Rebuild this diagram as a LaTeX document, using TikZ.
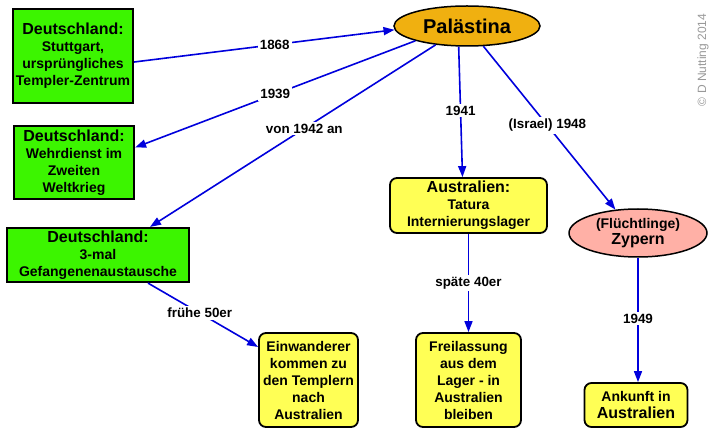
\documentclass[tikz,border=0pt]{standalone}
\usepackage{fontspec}
\setmainfont{Liberation Sans}
\usetikzlibrary{arrows.meta,shapes.geometric}
\definecolor{dgreen}{RGB}{60,245,0}
\definecolor{myyellow}{RGB}{255,255,85}
\definecolor{myorange}{RGB}{240,176,16}
\definecolor{mypink}{RGB}{255,176,166}
\definecolor{myblue}{RGB}{0,0,220}
\newcommand{\hd}[1]{{\fontsize{16}{17}\selectfont #1}}
\begin{document}
\begin{tikzpicture}[x=1pt,y=-1pt,
  gbox/.style={draw=black,line width=2.2pt,fill=dgreen,align=center,inner sep=0pt,
    font=\bfseries\fontsize{14}{17}\selectfont},
  ybox/.style={draw=black,line width=1.8pt,fill=myyellow,rounded corners=7pt,align=center,inner sep=0pt,
    font=\bfseries\fontsize{14}{17}\selectfont},
  ell/.style={draw=black,ellipse,line width=1.5pt,align=center,inner sep=0pt},
  conn/.style={draw=myblue,line width=1.6pt,-{Triangle[length=11pt,width=8pt]}},
  lbl/.style={fill=white,inner sep=2pt,font=\bfseries\fontsize{13.4}{15}\selectfont}
]
\useasboundingbox (0,0) rectangle (714,435);

\node[gbox,minimum width=120pt,minimum height=94pt] (b1) at (73,56)
  {\hd{Deutschland:}\\Stuttgart,\\ursprüngliches\\Templer-Zentrum};
\node[gbox,minimum width=120pt,minimum height=73pt] (b2) at (74,162.5)
  {\hd{Deutschland:}\\Wehrdienst im\\Zweiten\\Weltkrieg};
\node[gbox,minimum width=182pt,minimum height=54pt] (b3) at (98,255)
  {\hd{Deutschland:}\\3-mal\\Gefangenenaustausche};

\node[ell,fill=myorange,minimum width=146pt,minimum height=40pt,
  font=\bfseries\fontsize{20}{22}\selectfont] (pal) at (467,26) {Palästina};

\node[ybox,minimum width=157pt,minimum height=55pt] (aus) at (468.5,205.5)
  {\hd{Australien:}\\Tatura\\Internierungslager};
\node[ell,fill=mypink,minimum width=138pt,minimum height=48pt,
  font=\bfseries\fontsize{14}{16}\selectfont] (zyp) at (638,233)
  {(Flüchtlinge)\\{\fontsize{16}{17}\selectfont Zypern}};

\node[ybox,minimum width=99pt,minimum height=94pt] (ein) at (308.5,380)
  {Einwanderer\\kommen zu\\den Templern\\nach\\Australien};
\node[ybox,minimum width=105pt,minimum height=94pt] (frei) at (468.5,380)
  {Freilassung\\aus dem\\Lager - in\\Australien\\bleiben};
\node[ybox,minimum width=103pt,minimum height=44pt] (ank) at (636,405)
  {Ankunft in\\{\fontsize{16}{17}\selectfont Australien}};

\node[rotate=90,text=gray!80,font=\fontsize{12}{14}\selectfont] (copy) at (703,60) {© D Nutting 2014};

\draw[conn] ([yshift=-6pt]b1.east) -- node[lbl,pos=0.54] {1868} (pal.183);
\draw[conn] (pal.196) -- node[lbl,pos=0.5] {1939} ([yshift=15pt]b2.east);
\draw[conn] (pal.211) -- node[lbl,pos=0.46] {von 1942 an} ([xshift=52pt]b3.north);
\draw[conn] (pal.248) -- node[lbl,pos=0.49] {1941} ([xshift=-6pt]aus.north);
\draw[conn] (pal.309) -- node[lbl,pos=0.485] {(Israel) 1948} (zyp.134);
\draw[conn] (aus.south) -- node[lbl,pos=0.5] {späte 40er} (frei.north);
\draw[conn] (zyp.south) -- node[lbl,pos=0.49] {1949} (zyp.south |- ank.north);
\draw[conn] ([xshift=50pt]b3.south) -- node[lbl,pos=0.47] {frühe 50er} ([yshift=33pt]ein.west);
\end{tikzpicture}
\end{document}
